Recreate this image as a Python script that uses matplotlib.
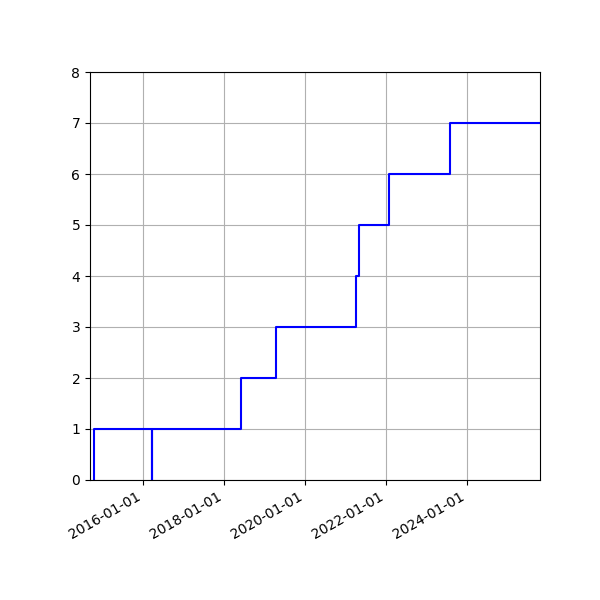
import numpy as np
import matplotlib
matplotlib.use("Agg")
import matplotlib.pyplot as plt
import matplotlib.dates as mdates

dates = np.array(["2014-10-15", "2014-10-15", "2016-03-22", "2016-03-24", "2018-06-01",
                  "2019-04-12", "2021-04-05", "2021-04-28", "2022-01-28", "2023-07-30",
                  "2025-10-20"], dtype="datetime64[D]")
counts = [0, 1, 0, 1, 2, 3, 4, 5, 6, 7, 7]

fig, ax = plt.subplots(figsize=(6, 6), dpi=100)
ax.plot(dates, counts, drawstyle="steps-post", color="blue")
ax.set_xlim(np.datetime64("2014-09-10"), np.datetime64("2025-10-20"))
ax.set_ylim(0, 8)
ax.xaxis.set_major_locator(mdates.YearLocator(2))
ax.xaxis.set_major_formatter(mdates.DateFormatter("%Y-%m-%d"))
ax.grid(True)
fig.autofmt_xdate()
fig.subplots_adjust(left=0.15, right=0.9, top=0.88, bottom=0.2)
fig.savefig("out.png")
